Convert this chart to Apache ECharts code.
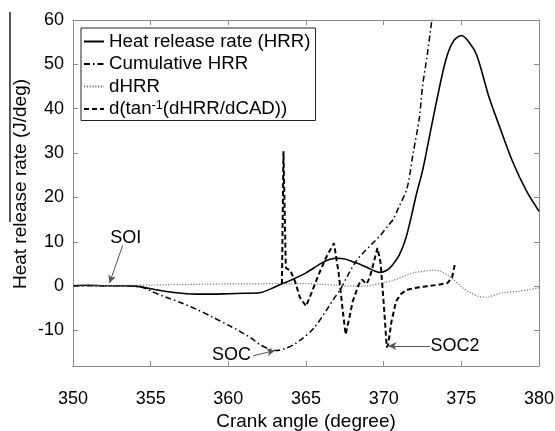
<!DOCTYPE html>
<html><head><meta charset="utf-8">
<script src="https://cdn.jsdelivr.net/npm/echarts@6/dist/echarts.min.js"></script>
<style>html,body{margin:0;padding:0;background:#fff}#c{width:555px;height:431px}</style>
</head><body><div id="c"></div>
<script>
// ---- data ----
const xTicks = [350, 355, 360, 365, 370, 375, 380];
const yTicks = [-10, 0, 10, 20, 30, 40, 50, 60];
const seriesNames = ['Heat release rate (HRR)', 'Cumulative HRR', 'dHRR', 'd(tan-1(dHRR/dCAD))'];

const hrrX = [350, 351, 352, 353, 354, 355, 356, 357, 358, 359, 360, 361, 362, 363, 363.5, 364, 365, 366, 366.5, 367, 367.5, 368, 368.5, 369, 369.5, 369.8, 370.2, 370.5, 371, 371.4, 371.7, 372.1, 372.5, 372.8, 373.4, 374, 374.5, 375, 375.5, 376, 376.8, 377.5, 378.3, 379.2, 380];
const hrrY = [0.1, 0.2, 0.1, 0.1, 0.0, -0.6, -1.2, -1.6, -1.8, -1.8, -1.7, -1.6, -1.5, -0.2, 0.6, 1.3, 3.0, 5.2, 6.0, 6.3, 6.1, 5.5, 4.9, 4.1, 3.3, 3.1, 3.6, 4.5, 7.0, 10.5, 14.5, 20.6, 26, 31.1, 41.6, 51, 55.3, 56.5, 55, 52, 42.4, 35.6, 28.1, 21.4, 16.9];

const cumX = [350, 352, 353, 354, 354.5, 355, 356, 357, 358, 359, 360, 360.7, 361.5, 362, 362.5, 363.1, 363.7, 364.2, 364.7, 365.5, 366.3, 366.8, 367.2, 367.7, 368.2, 368.6, 369.3, 369.8, 370.3, 370.6, 371.0, 371.5, 371.9, 372.3, 372.5, 372.8, 373.1, 373.3];
const cumY = [0.1, 0.1, 0.1, 0, -0.3, -1.1, -2.5, -3.8, -5.3, -7.0, -8.8, -10.1, -11.8, -13.1, -14.0, -14.5, -14.0, -13.2, -12, -9.5, -5.5, -2.8, -0.8, 2.5, 5.5, 7.2, 9.7, 11.5, 13.7, 15, 18, 22, 30, 38, 45, 52, 60, 66];

const dhrrX = [350, 352, 354, 356, 358, 360, 362, 363, 364, 365, 366, 367, 368, 369, 370, 370.5, 371, 371.9, 372.5, 373.2, 373.7, 374.1, 374.5, 375.1, 375.6, 376.1, 376.6, 377.5, 378.8, 380];
const dhrrY = [0, 0.1, 0.2, 0.3, 0.4, 0.5, 0.5, 0.6, 0.5, 0.6, 0.4, 0.2, 0.0, 0.1, 0.8, 1.2, 1.8, 3.0, 3.3, 3.6, 3.3, 2.6, 1.5, -0.4, -1.5, -2.3, -2.5, -1.6, -1.1, -0.4];

const dtanX = [363.45, 363.55, 363.7, 364.0, 364.3, 364.6, 365.0, 365.3, 365.8, 366.3, 366.8, 367.1, 367.35, 367.55, 367.8, 368.0, 368.4, 368.6, 368.9, 369.1, 369.3, 369.6, 369.8, 370.0, 370.2, 370.3, 370.5, 370.8, 371.1, 371.5, 372.2, 372.8, 373.5, 374.1, 374.4, 374.6];
const dtanY = [0.5, 30.4, 4.1, 3.5, 1, -2.5, -4.5, -2, 2.5, 6.5, 9.7, 3, -5, -10.9, -7, -3.5, 0.4, 1.5, 0.5, 1.9, 4.5, 8.6, 5.3, -3.7, -13.8, -13, -8, -3.4, -1.8, -0.8, -0.3, 0, 0.3, 0.7, 1.9, 5.2];

// annotations: label, text position, arrow start, arrow tip (data coords)
const annLabels = ['SOI', 'SOC', 'SOC2'];
const annText = [[353.4, 10.9], [360.2, -15.6], [374.6, -13.6]];
const annFrom = [[353.2, 9.2], [361.6, -15.7], [373.0, -13.5]];
const annTip = [[352.35, 0.7], [363.0, -14.5], [370.3, -13.5]];

const zip = (xs, ys) => xs.map((x, i) => [x, ys[i]]);

const chart = echarts.init(document.getElementById('c'), null, {renderer: 'canvas'});
const FONT = 'Liberation Sans, Arial, sans-serif';
const AX = '#8a8a8a';

function axisParts(ticks) {
  return {
    axisLine: {show: true, onZero: false, lineStyle: {color: AX, width: 1}},
    axisTick: {show: true, inside: true, length: 5, lineStyle: {color: AX}, customValues: ticks},
    splitLine: {show: false}
  };
}

chart.setOption({
  animation: false,
  backgroundColor: '#fff',
  textStyle: {fontFamily: FONT},
  grid: {left: 73, right: 16, top: 20, bottom: 65, containLabel: false, outerBoundsMode: 'none'},
  legend: {
    data: seriesNames,
    orient: 'vertical',
    left: 81, top: 28,
    backgroundColor: '#fff',
    borderColor: '#222', borderWidth: 1, borderRadius: 0,
    padding: [4, 5, 2, 2],
    itemGap: 3.5,
    itemWidth: 20, itemHeight: 1,
    textStyle: {fontSize: 18.7, color: '#000', fontFamily: FONT, lineHeight: 19,
      rich: {sup: {fontSize: 12.5, verticalAlign: 'top', lineHeight: 12, fontFamily: FONT, color: '#000'}}},
    formatter: function (n) {
      if (n === seriesNames[3]) return 'd(tan{sup|-1}(dHRR/dCAD))';
      return n;
    }
  },
  xAxis: [
    Object.assign({
      type: 'value', min: 350, max: 380, interval: 5, position: 'bottom',
      name: 'Crank angle (degree)', nameLocation: 'middle', nameGap: 46, nameMoveOverlap: false,
      nameTextStyle: {fontSize: 19, color: '#000', fontFamily: FONT},
      axisLabel: {fontSize: 18, color: '#000', margin: 24, fontFamily: FONT, customValues: xTicks}
    }, axisParts(xTicks)),
    Object.assign({
      type: 'value', min: 350, max: 380, interval: 5, position: 'top',
      axisLabel: {show: false}
    }, axisParts(xTicks))
  ],
  yAxis: [
    Object.assign({
      type: 'value', min: -18, max: 60, position: 'left',
      name: 'Heat release rate (J/deg)', nameLocation: 'middle', nameGap: 43, nameMoveOverlap: false,
      nameTextStyle: {fontSize: 19, color: '#000', fontFamily: FONT, padding: [0, 0, 0, 18]},
      axisLabel: {fontSize: 18, color: '#000', margin: 9, fontFamily: FONT, customValues: yTicks}
    }, axisParts(yTicks)),
    Object.assign({
      type: 'value', min: -18, max: 60, position: 'right',
      axisLabel: {show: false}
    }, axisParts(yTicks))
  ],
  series: [
    {
      name: seriesNames[0], type: 'line', data: zip(hrrX, hrrY), showSymbol: false, symbol: 'none',
      smooth: 0.3, clip: true,
      lineStyle: {color: '#000', width: 1.6, type: 'solid'}, itemStyle: {color: '#000'},
      markLine: {
        silent: true, symbol: ['none', 'arrow'], symbolSize: [6, 8],
        label: {show: false},
        lineStyle: {color: '#555', width: 1, type: 'solid'},
        data: annTip.map((t, i) => [{coord: annFrom[i]}, {coord: t}])
      },
      markPoint: {
        silent: true, symbol: 'circle', symbolSize: 0,
        data: annLabels.map((l, i) => ({coord: annText[i], value: l,
          label: {show: true, position: 'inside', formatter: l, fontSize: 18, color: '#000', fontFamily: FONT}}))
      }
    },
    {
      name: seriesNames[1], type: 'line', data: zip(cumX, cumY), showSymbol: false, symbol: 'none',
      smooth: 0.3, clip: true,
      lineStyle: {color: '#000', width: 1.5, type: [6, 3, 1.5, 3]}, itemStyle: {color: '#000'}
    },
    {
      name: seriesNames[2], type: 'line', data: zip(dhrrX, dhrrY), showSymbol: false, symbol: 'none',
      smooth: 0.3, clip: true,
      lineStyle: {color: '#777', width: 1.2, type: [1.2, 1.6]}, itemStyle: {color: '#777'}
    },
    {
      name: seriesNames[3], type: 'line', data: zip(dtanX, dtanY), showSymbol: false, symbol: 'none',
      smooth: false, clip: true,
      lineStyle: {color: '#000', width: 2, type: [5, 3]}, itemStyle: {color: '#000'}
    }
  ],
  graphic: [{type: 'line', shape: {x1: 10, y1: 12, x2: 10, y2: 222}, style: {stroke: '#000', lineWidth: 1.3}}]
});
</script></body></html>
